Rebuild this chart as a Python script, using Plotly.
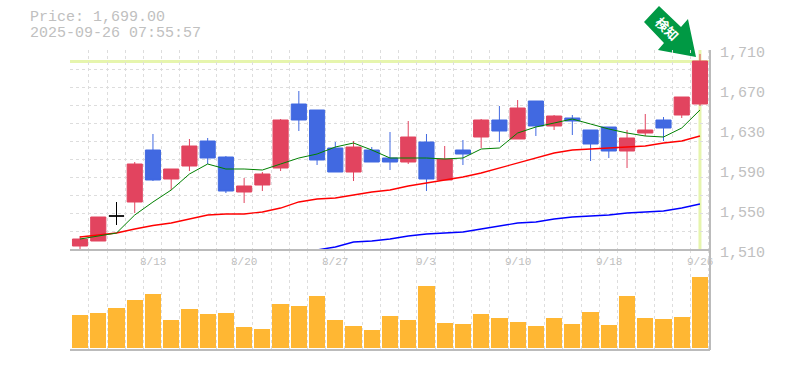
import plotly.graph_objects as go

dates = ["8/6","8/7","8/8","8/12","8/13","8/14","8/15","8/18","8/19","8/20","8/21","8/22","8/25","8/26","8/27","8/28","8/29","9/1","9/2","9/3","9/4","9/5","9/8","9/9","9/10","9/11","9/12","9/16","9/17","9/18","9/19","9/22","9/24","9/25","9/26"]
opens = [1514,1519,1544,1558,1610,1581,1594,1619,1603,1568,1575,1592,1656,1650,1612,1588,1610,1602,1598,1618,1580,1610,1623,1640,1621,1659,1634,1642,1630,1633,1609,1627,1640,1645,1656]
highs = [1524,1543,1558,1598,1626,1591,1621,1622,1604,1582,1588,1641,1669,1650,1618,1619,1613,1628,1639,1626,1614,1620,1641,1654,1660,1659,1645,1645,1630,1633,1630,1646,1643,1663,1706]
lows = [1510,1519,1535,1547,1579,1570,1589,1596,1567,1557,1569,1589,1629,1595,1588,1579,1598,1590,1596,1569,1580,1595,1612,1618,1621,1624,1630,1625,1599,1602,1592,1624,1619,1642,1654]
closes = [1521,1543,1544,1596,1580,1591,1614,1602,1569,1574,1586,1640,1640,1600,1588,1613,1598,1598,1623,1581,1601,1606,1640,1629,1652,1634,1644,1639,1616,1609,1622,1630,1632,1663,1699]
ma_short = [1521,1524,1527,1545,1558,1570,1586,1596,1591,1591,1590,1596,1602,1606,1613,1617,1610,1602,1602,1602,1601,1602,1611,1612,1627,1633,1637,1641,1636,1631,1627,1624,1623,1632,1650]
ma_mid = [1523,1525,1527,1531,1534.5,1537,1541,1545,1546,1546,1548,1552,1558,1561,1562,1565,1568,1570,1574,1577,1580,1583,1587,1592,1597,1602,1607,1610,1611,1612,1613,1614,1617,1619,1624]
ma_long = [None]*13 + [1510,1513,1518,1519,1521,1524,1526,1527,1528,1531,1534,1537,1538,1541,1543,1544,1545,1547,1548,1549,1552,1556]
volumes = [33,35,40,48,54,28,39,34,35,21,19,44,42,52,28,22,18,32,28,62,25,24,34,30,26,22,30,24,36,23,52,30,29,31,71]
date_ticks = ["8/13","8/20","8/27","9/3","9/10","9/18","9/26"]
price_ticks = [1710,1670,1630,1590,1550,1510]
title_lines = ["Price: 1,699.00","2025-09-26 07:55:57"]
arrow_text = "検知"

RED="#e2445f"; BLUE="#4169e1"; GRID="#dddddd"; TXT="#c0c0c0"; LIME="#e6f5ad"; AXIS="#bbbbbb"
xs=list(range(len(dates)))
is_doji=[o==c for o,c in zip(opens,closes)]
pick=lambda arr,f:[v for v,d in zip(arr,is_doji) if f(d)]

fig=go.Figure()
for vals,col,w in [(ma_long,"#0000ff",1.3),(ma_mid,"#ff0000",1.3),(ma_short,"#008000",1)]:
    fig.add_trace(go.Scatter(x=xs,y=vals,mode="lines",line=dict(color=col,width=w),xaxis="x",yaxis="y",showlegend=False,hoverinfo="skip"))
fig.add_trace(go.Candlestick(x=pick(xs,lambda d:not d),open=pick(opens,lambda d:not d),high=pick(highs,lambda d:not d),low=pick(lows,lambda d:not d),close=pick(closes,lambda d:not d),
    increasing=dict(line=dict(color=RED,width=1),fillcolor=RED),decreasing=dict(line=dict(color=BLUE,width=1),fillcolor=BLUE),whiskerwidth=0,xaxis="x",yaxis="y",showlegend=False))
fig.add_trace(go.Candlestick(x=pick(xs,lambda d:d),open=pick(opens,lambda d:d),high=pick(highs,lambda d:d),low=pick(lows,lambda d:d),close=pick(closes,lambda d:d),
    increasing=dict(line=dict(color="#000000",width=1),fillcolor="#000000"),decreasing=dict(line=dict(color="#000000",width=1),fillcolor="#000000"),whiskerwidth=0,xaxis="x",yaxis="y",showlegend=False))
fig.add_trace(go.Bar(x=xs,y=volumes,marker=dict(color="#ffb733",line=dict(width=0)),width=0.89,base=0,xaxis="x2",yaxis="y2",showlegend=False))

xrange=[-0.55,34.55]
xgrid=dict(range=xrange,tickmode="linear",tick0=-0.52,dtick=1,showticklabels=False,ticks="",showgrid=True,gridcolor=GRID,griddash="3px,3px",gridwidth=1,zeroline=False,
           showline=False,rangeslider=dict(visible=False))
ydomain=dict(showticklabels=False,ticks="",zeroline=False)
fig.update_layout(
    width=785,height=370,margin=dict(l=70,r=75,t=50,b=20),paper_bgcolor="white",plot_bgcolor="white",
    boxgap=0.17,boxgroupgap=0,boxmode="overlay",bargap=0,hovermode=False,
    xaxis=dict(**xgrid,anchor="y"),xaxis2=dict(**xgrid,anchor="y2"),
    yaxis=dict(**ydomain,domain=[1/3,1],range=[1510,1710],tickmode="linear",tick0=1510,dtick=18.1,showgrid=True,gridcolor=GRID,griddash="3px,3px"),
    yaxis2=dict(**ydomain,domain=[0,1/3],range=[-2,98],showgrid=False),
    font=dict(family="Liberation Mono",color=TXT),
)
# highlights and frame
fig.add_shape(type="line",xref="paper",x0=0,x1=1,yref="y",y0=closes[-1]-0.5,y1=closes[-1]-0.5,line=dict(color=LIME,width=3),layer="below")
fig.add_shape(type="line",xref="x",x0=xs[-1],x1=xs[-1],yref="paper",y0=1/3,y1=1,line=dict(color=LIME,width=3),layer="below")
for x0,x1,y0,y1 in [(0,1,1/3,1/3),(0,1,0,0),(1,1,0,1)]:
    fig.add_shape(type="line",xref="paper",yref="paper",x0=x0,x1=x1,y0=y0,y1=y1,line=dict(color=AXIS,width=2),layer="above")
# arrow (decoration, placed in page pixels)
px2x=lambda p:(p-70)/640
px2y=lambda p:(350-p)/300
arrow_px=[(659,6),(644,22),(664,43),(658,50),(696,57),(688,19),(681,27)]
fig.add_shape(type="path",xref="paper",yref="paper",path="M "+" L ".join(f"{px2x(a):.4f},{px2y(b):.4f}" for a,b in arrow_px)+" Z",fillcolor="#009944",line=dict(width=0),layer="below")
fig.add_annotation(xref="paper",yref="paper",x=px2x(667),y=px2y(29),xanchor="center",yanchor="middle",text="<b>"+arrow_text+"</b>",textangle=45,showarrow=False,font=dict(family="Noto Sans CJK JP",size=13,color="#ffffff"))
# text
for i,line in enumerate(title_lines):
    fig.add_annotation(xref="paper",yref="paper",x=px2x(30),y=px2y(18+15*i),text=line,showarrow=False,xanchor="left",yanchor="middle",xshift=-2,font=dict(size=15,color=TXT))
for p in price_ticks:
    fig.add_annotation(xref="paper",yref="y",x=1,y=p,yshift=-3,xshift=8,text=f"{p:,}",showarrow=False,xanchor="left",yanchor="middle",font=dict(size=15,color=TXT))
for d in date_ticks:
    fig.add_annotation(xref="x",yref="paper",x=dates.index(d),y=1/3,yshift=-12,text=d,showarrow=False,xanchor="center",yanchor="middle",font=dict(size=11,color=TXT))
fig.write_html("out.html",config=dict(displayModeBar=False),post_script="document.body.style.margin='0';")
